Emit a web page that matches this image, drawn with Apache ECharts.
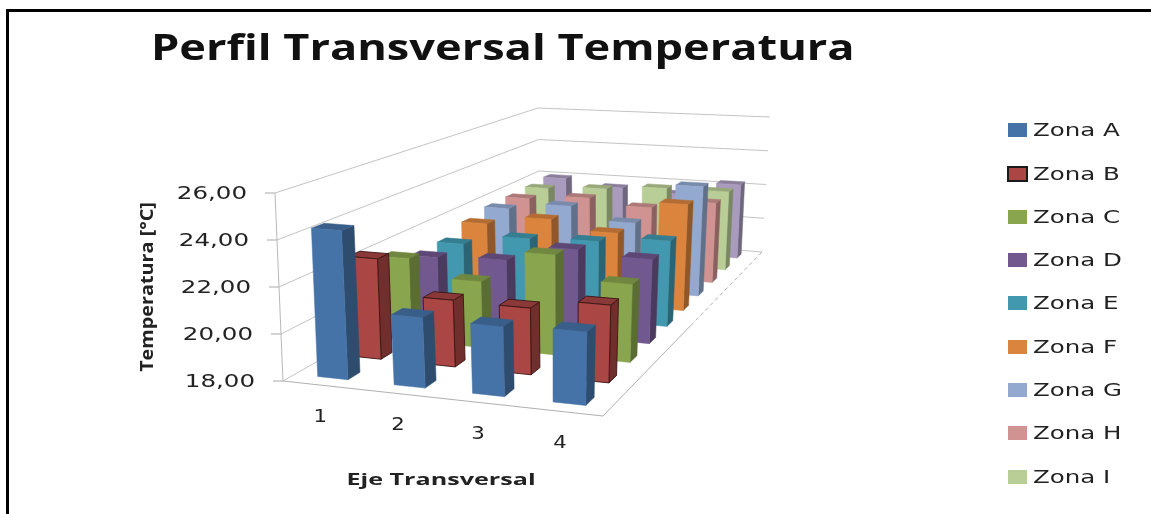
<!DOCTYPE html>
<html><head><meta charset="utf-8">
<style>html,body{margin:0;padding:0;background:#fff;overflow:hidden}#c{width:1151px;height:514px;filter:blur(0.65px)}</style>
<script src="https://cdn.jsdelivr.net/npm/echarts@6/dist/echarts.min.js"></script>
</head><body><div id="c"></div>
<script>
var categories = ['1','2','3','4'];
var zones = ['Zona A','Zona B','Zona C','Zona D','Zona E','Zona F','Zona G','Zona H','Zona I','Zona J'];
var colors = ['#4573A7','#AA4644','#89A54E','#71588F','#4198AF','#DB843D','#93A9CF','#D19392','#B9CD96','#A99BBD'];
var zonaA = [24.38,20.97,20.91,21.02];
var zonaB = [22.49,20.94,20.90,21.34];
var zonaC = [21.82,21.03,22.54,21.49];
var zonaD = [21.20,21.34,22.11,21.92];
var zonaE = [21.21,21.74,21.86,22.14];
var zonaF = [21.64,22.12,21.65,23.35];
var zonaG = [21.87,22.24,21.57,23.72];
var zonaH = [21.88,22.13,21.82,22.30];
var zonaI = [21.93,22.12,22.36,22.38];
var zonaJ = [22.01,21.65,21.50,22.26];
var zoneValues = [zonaA,zonaB,zonaC,zonaD,zonaE,zonaF,zonaG,zonaH,zonaI,zonaJ];
var yTicks = [18,20,22,24,26];
var yTickLabels = ['18,00','20,00','22,00','24,00','26,00'];

/* camera: projected corners of the plot box */
var floorQuad = [[283,381],[603,416],[762,252],[540,234]];
var topQuad = [[275,193],[608,218],[770,117],[538,108]];
var G = {left:283,top:193,width:320,height:187};

function homography(q){
  var x0=q[0][0],y0=q[0][1],x1=q[1][0],y1=q[1][1],x2=q[2][0],y2=q[2][1],x3=q[3][0],y3=q[3][1];
  var dx1=x1-x2,dx2=x3-x2,sx=x0-x1+x2-x3,dy1=y1-y2,dy2=y3-y2,sy=y0-y1+y2-y3;
  var den=dx1*dy2-dx2*dy1,g=(sx*dy2-dx2*sy)/den,h=(dx1*sy-sx*dy1)/den;
  return function(u,v){
    var w=1+g*u+h*v;
    return [(x0+(x1-x0+g*x1)*u+(x3-x0+h*x3)*v)/w,(y0+(y1-y0+g*y1)*u+(y3-y0+h*y3)*v)/w];
  };
}
var floorH=homography(floorQuad), topH=homography(topQuad);
function P(u,v,t){var a=floorH(u,v),b=topH(u,v);return [a[0]+(b[0]-a[0])*t,a[1]+(b[1]-a[1])*t];}
function uOf(px){return (px-G.left)/G.width;}
function tOf(py){return (G.top+G.height-py)/G.height;}
function shade(hex,k){var n=parseInt(hex.slice(1),16);
  var r=Math.round((n>>16&255)*k),g=Math.round((n>>8&255)*k),b=Math.round((n&255)*k);
  return 'rgb('+r+','+g+','+b+')';}

var halfU=0.05, halfV=0.0175, nDepth=zones.length;
function barRender(zi){
  return function(params,api){
    var p=api.coord([api.value(0),api.value(1)]);
    var u=uOf(p[0]), t=tOf(p[1]), v=(zi+0.5)/nDepth;
    var c=colors[zi];
    var u0=u-halfU,u1=u+halfU,v0=v-halfV,v1=v+halfV;
    var line=zi===1?'#3d1514':null;
    function face(pts,fill){return {type:'polygon',shape:{points:pts},style:{fill:fill,stroke:line||fill,lineWidth:line?0.9:0.5}};}
    return {type:'group',children:[
      face([P(u1,v0,0),P(u1,v1,0),P(u1,v1,t),P(u1,v0,t)],shade(c,0.66)),
      face([P(u0,v0,t),P(u1,v0,t),P(u1,v1,t),P(u0,v1,t)],shade(c,0.82)),
      face([P(u0,v0,0),P(u1,v0,0),P(u1,v0,t),P(u0,v0,t)],c)
    ]};
  };
}
function seg(a,b,dash,col){return {type:'line',shape:{x1:a[0],y1:a[1],x2:b[0],y2:b[1]},
  style:{stroke:col||'#c4c4c4',lineWidth:1,lineDash:dash||null}};}
function lab(text,x,y,size,sx,align){return {type:'text',x:x,y:y,scaleX:sx,
  style:{text:text,fontFamily:'DejaVu Sans',fontSize:size,fill:'#222',textAlign:align||'center',textVerticalAlign:'middle'}};}
function frameRender(params,api){
  var ch=[];
  yTicks.forEach(function(tv,i){
    var t=tOf(api.coord([0,tv])[1]);
    var a=P(0,0,t),b=P(0,1,t),c=P(1,1,t);
    ch.push(seg(a,b),seg(b,c));
    ch.push(seg([a[0]-10,a[1]],a,null,'#a8a8a8'));
    ch.push(lab(yTickLabels[i],a[0]-28,a[1]+1,17.5,1.4,'right'));
  });
  ch.push(seg(P(0,0,0),P(0,0,1),null,'#b8b8b8'));
  ch.push(seg(P(0,0,0),P(1,0,0),null,'#b0b0b0'));
  ch.push(seg(P(1,0,0),P(1,0.45,0),null,'#b0b0b0'));
  ch.push(seg(P(1,0.45,0),P(1,1,0),[4,3],'#b0b0b0'));
  categories.forEach(function(cat,i){
    var px=api.coord([i,18])[0];
    var f=P(uOf(px),0,0);
    ch.push(lab(cat,f[0]-1,f[1]+32,17,1.25));
  });
  return {type:'group',children:ch};
}
var series=[{type:'custom',name:'Marco',coordinateSystem:'cartesian2d',z:1,silent:true,clip:false,
  data:[[0,18]],renderItem:frameRender}];
zones.forEach(function(z,zi){
  series.push({type:'custom',name:z,coordinateSystem:'cartesian2d',z:20-zi,clip:false,
    data:zoneValues[zi].map(function(val,ci){return [ci,val];}),
    encode:{x:0,y:1},renderItem:barRender(zi)});
});
var graphics=[
  {type:'line',shape:{x1:6,y1:10.5,x2:1151,y2:10.5},style:{stroke:'#000',lineWidth:3}},
  {type:'line',shape:{x1:7.5,y1:9,x2:7.5,y2:514},style:{stroke:'#000',lineWidth:3}},
  {type:'text',x:151,y:50,scaleX:1.29,style:{text:'Perfil Transversal Temperatura',fontFamily:'Open Sans',fontWeight:'bold',fontSize:35,fill:'#111',textVerticalAlign:'middle'}},
  {type:'text',x:148,y:287,rotation:Math.PI/2,scaleX:1.1,style:{text:'Temperatura [°C]',fontFamily:'Open Sans',fontWeight:'bold',fontSize:18,fill:'#222',textAlign:'center',textVerticalAlign:'middle'}},
  {type:'text',x:441,y:480,scaleX:1.57,style:{text:'Eje Transversal',fontFamily:'Open Sans',fontWeight:'bold',fontSize:16,fill:'#222',textAlign:'center',textVerticalAlign:'middle'}}
];
var legendY=[130,174,217,260,303,347,390,433,477];
legendY.forEach(function(y,i){
  graphics.push({type:'rect',shape:{x:1008,y:y-7,width:19,height:14},style:{fill:colors[i],stroke:i===1?'#1a1a1a':null,lineWidth:i===1?2:0}});
  graphics.push({type:'text',x:1033,y:y+1,scaleX:1.36,style:{text:zones[i],fontFamily:'DejaVu Sans',fontSize:18,fill:'#222',textVerticalAlign:'middle'}});
});
var chart=echarts.init(document.getElementById('c'),null,{renderer:'canvas'});
chart.setOption({
  animation:false,backgroundColor:'#fff',
  grid:G,
  xAxis:{type:'category',data:categories,show:false},
  yAxis:{type:'value',min:18,max:26,interval:2,show:false},
  graphic:graphics,
  series:series
});
</script></body></html>
